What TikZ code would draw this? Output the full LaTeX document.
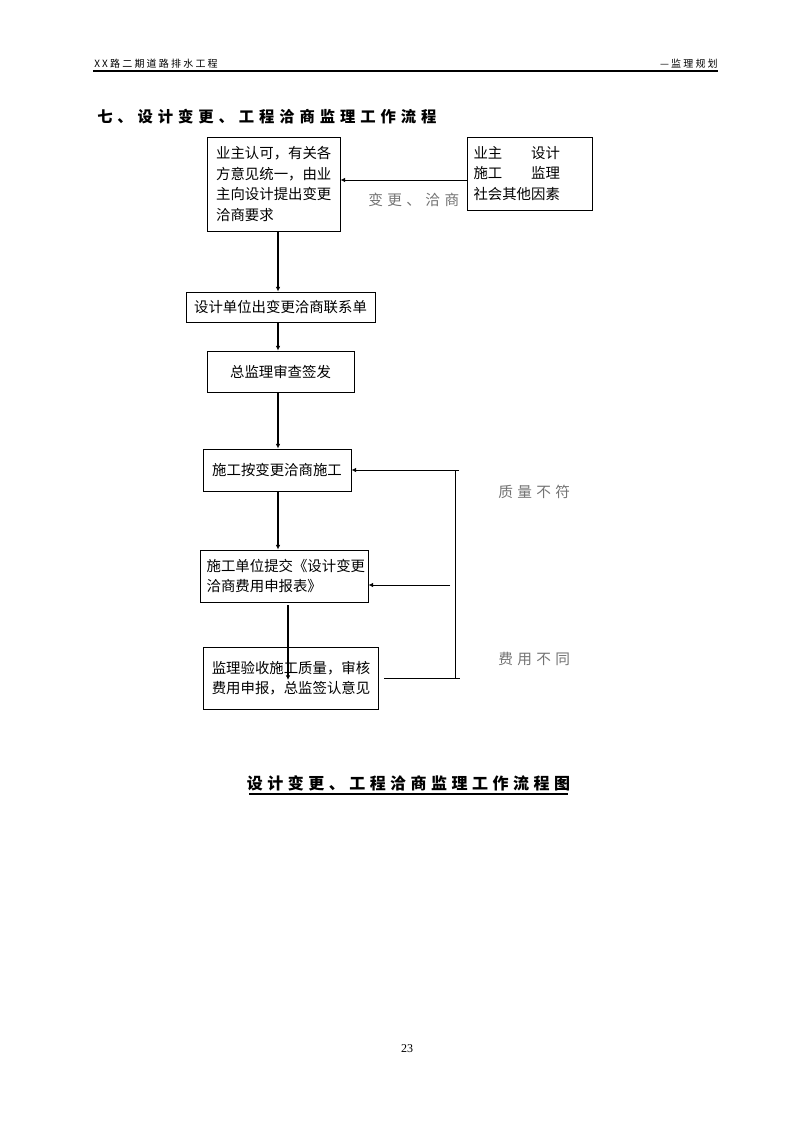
\documentclass[tikz,border=0pt]{standalone}
\usepackage{fontspec}
\setmainfont{Noto Sans CJK SC}
\newfontfamily\serifnum{Liberation Serif}
\usetikzlibrary{arrows.meta,calc}
\tikzset{
  box/.style={draw, line width=0.7pt, fill=white, inner sep=0pt, align=left,
    font=\fontsize{10.8}{15.5}\selectfont},
  thick link/.style={line width=2.2pt, -{Latex[length=3.5pt,width=3.5pt]}},
  thin link/.style={line width=0.7pt, -{Latex[length=3.5pt,width=3.5pt]}},
  plain link/.style={line width=0.7pt},
  graylabel/.style={text=black!55, inner sep=0pt, anchor=west,
    font=\fontsize{11}{13}\selectfont\addfontfeature{LetterSpace=30}},
}
\begin{document}
\begin{tikzpicture}[x=0.75pt,y=-0.75pt]
\useasboundingbox (0,0) rectangle (794,1123);
% header
\node[anchor=west, inner sep=0pt, font=\fontsize{7.5}{9}\selectfont\addfontfeature{LetterSpace=22}] (hl) at (94,64) {XX路二期道路排水工程};
\node[anchor=east, inner sep=0pt, font=\fontsize{7.5}{9}\selectfont\addfontfeature{LetterSpace=22}] (hr) at (718,64) {—监理规划};
\coordinate (hla) at (93,71);
\coordinate (hlb) at (718,71);
\draw[line width=0.9pt] (hla) -- (hlb);
% title
\node[anchor=west, inner sep=0pt, font=\fontsize{11.5}{14}\selectfont\bfseries\addfontfeature{LetterSpace=32}] (title) at (97,117) {七、设计变更、工程洽商监理工作流程};
% gray label
\node[graylabel] (lab1) at (368,200) {变更、洽商};
% boxes
\node[box, minimum width=99.75pt, minimum height=70.5pt, text width=86pt] (b1) at (273.5,184)
  {业主认可，有关各\\方意见统一，由业\\主向设计提出变更\\洽商要求};
\node[box, minimum width=93.75pt, minimum height=54.75pt, text width=84pt] (br) at (529.5,173.5)
  {业主　　设计\\施工　　监理\\社会其他因素};
\node[box, minimum width=141.75pt, minimum height=22.5pt, align=center] (b2) at (280.5,307) {设计单位出变更洽商联系单};
\node[box, minimum width=110.25pt, minimum height=30.75pt, align=center] (b3) at (280.5,371.5) {总监理审查签发};
\node[box, minimum width=111pt, minimum height=31.5pt, align=center] (b4) at (277,470) {施工按变更洽商施工};
\node[box, minimum width=126pt, minimum height=39pt, text width=116pt] (b5) at (284,576)
  {施工单位提交《设计变更\\洽商费用申报表》};
\node[box, minimum width=131.25pt, minimum height=46.5pt, text width=118pt] (b6) at (290.5,678)
  {监理验收施工质量，审核\\费用申报，总监签认意见};
% helper coordinates
\coordinate (cx) at (278,0);
\coordinate (c5) at (288,605);
\coordinate (t6) at (288,680);
\coordinate (fbtop) at (459,470);
\coordinate (fbv1) at (455,470);
\coordinate (fbv2) at (455,678);
\coordinate (fbmid) at (450,585);
\coordinate (fbbot0) at (384,678);
\coordinate (fbbot1) at (460,678);
% main flow
\draw[thick link] (b1.south -| cx) -- (b2.north -| cx);
\draw[thick link] (b2.south -| cx) -- (b3.north -| cx);
\draw[thick link] (b3.south -| cx) -- (b4.north -| cx);
\draw[thick link] (b4.south -| cx) -- (b5.north -| cx);
\draw[thick link] (c5) -- (t6);
% input arrow
\draw[thin link] (br.west |- 0,180) -- (b1.east |- 0,180);
% feedback loop
\draw[plain link] (fbv1) -- (fbv2);
\draw[plain link] (fbbot0) -- (fbbot1);
\draw[thin link] (fbtop) -- (b4.east);
\draw[thin link] (fbmid) -- (b5.east |- fbmid);
\node[graylabel] (lab2) at (498,492) {质量不符};
\node[graylabel] (lab3) at (498,659) {费用不同};
% caption
\node[inner sep=0pt, font=\fontsize{12}{14}\selectfont\bfseries\addfontfeature{LetterSpace=28}] (cap) at (408.5,783) {设计变更、工程洽商监理工作流程图};
\coordinate (ula) at (249,794);
\coordinate (ulb) at (568,794);
\draw[line width=0.9pt] (ula) -- (ulb);
% page number
\node[inner sep=0pt, font=\fontsize{9}{10}\serifnum] (pg) at (407,1049) {23};
\end{tikzpicture}
\end{document}
